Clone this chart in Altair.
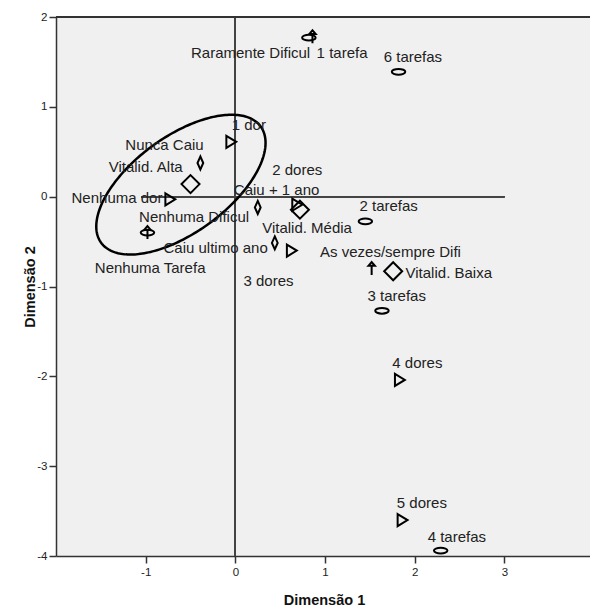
import altair as alt
import numpy as np
import pandas as pd

# Category points of the two-dimensional solution (joint category plot)
categorias = ["Nenhuma dor", "1 dor", "2 dores", "3 dores", "4 dores", "5 dores",
              "Nunca Caiu", "Caiu + 1 ano", "Caiu ultimo ano",
              "Vitalid. Alta", "Vitalid. Média", "Vitalid. Baixa",
              "Nenhuma Tarefa", "1 tarefa", "2 tarefas", "3 tarefas", "4 tarefas", "6 tarefas",
              "Nenhuma Dificul", "Raramente Dificul", "As vezes/sempre Difi"]
variaveis = (["Dor"] * 6 + ["Queda"] * 3 + ["Vitalidade"] * 3
             + ["Tarefas"] * 6 + ["Dificuldade"] * 3)
dim1 = [-0.73, -0.05, 0.685, 0.625, 1.83, 1.86,
        -0.39, 0.25, 0.44,
        -0.50, 0.72, 1.76,
        -0.98, 0.82, 1.45, 1.635, 2.29, 1.82,
        -0.98, 0.86, 1.52]
dim2 = [-0.03, 0.61, -0.09, -0.60, -2.04, -3.60,
        0.375, -0.12, -0.515,
        0.14, -0.145, -0.83,
        -0.40, 1.77, -0.275, -1.27, -3.94, 1.39,
        -0.40, 1.78, -0.80]
# where each category name is written
rotulo_x = [-1.32, 0.15, 0.69, 0.37, 2.03, 2.08,
            -0.79, 0.46, -0.22,
            -1.00, 0.80, 2.38,
            -0.95, 1.19, 1.71, 1.80, 2.47, 1.98,
            -0.46, 0.17, 1.73]
rotulo_y = [-0.01, 0.80, 0.30, -0.935, -1.85, -3.41,
            0.58, 0.07, -0.57,
            0.33, -0.345, -0.85,
            -0.79, 1.60, -0.10, -1.11, -3.79, 1.56,
            -0.23, 1.60, -0.62]

x_ticks = [-1, 0, 1, 2, 3]
y_ticks = [-4, -3, -2, -1, 0, 1, 2]

# one marker per variable (custom paths, all drawn at the same symbol size)
grupos = ["Dor", "Queda", "Vitalidade", "Tarefas", "Dificuldade"]
formas = [
    "M-0.5,-0.67L0.6,0L-0.5,0.67Z",
    "M0,-0.72L0.32,0L0,0.72L-0.32,0Z",
    "M0,-1L1,0L0,1L-1,0Z",
    "M-0.75,0C-0.75,-0.177,-0.414,-0.32,0,-0.32C0.414,-0.32,0.75,-0.177,0.75,0"
    "C0.75,0.177,0.414,0.32,0,0.32C-0.414,0.32,-0.75,0.177,-0.75,0Z",
    "M0,0.72L0,-0.4M-0.36,-0.3L0,-0.72L0.36,-0.3Z",
]

# highlighted cluster
elipse_centro = (-0.607, 0.134)
elipse_semieixos = (1.10, 0.535)
elipse_angulo = 36.0

df = pd.DataFrame({
    "categoria": categorias, "variavel": variaveis,
    "dim1": dim1, "dim2": dim2, "lx": rotulo_x, "ly": rotulo_y,
})

t = np.linspace(0, 2 * np.pi, 241)
th = np.radians(elipse_angulo)
a, b = elipse_semieixos
elipse = pd.DataFrame({
    "i": np.arange(len(t)),
    "x": elipse_centro[0] + a * np.cos(t) * np.cos(th) - b * np.sin(t) * np.sin(th),
    "y": elipse_centro[1] + a * np.cos(t) * np.sin(th) + b * np.sin(t) * np.cos(th),
})

FONT = "Liberation Sans"
xs = alt.Scale(domain=[-2, 3.955], nice=False, zero=False)
ys = alt.Scale(domain=[-4, 2], nice=False, zero=False)

# plain hyphen for negative tick values
tick_label = "'' + datum.value"

x_axis = alt.Axis(values=x_ticks, labelExpr=tick_label, grid=False, title="Dimensão 1",
                  domainColor="#333", domainWidth=1.5, tickColor="#333", tickWidth=1.5,
                  tickSize=7, labelFont=FONT, labelFontSize=11.5, labelColor="#222",
                  labelPadding=3, titleFont=FONT, titleFontSize=14.5,
                  titleFontWeight="bold", titleColor="#111", titleX=268, titleY=48,
                  titleAlign="center", titleBaseline="alphabetic")
y_axis = alt.Axis(values=y_ticks, labelExpr=tick_label, grid=False, title="Dimensão 2",
                  domainColor="#333", domainWidth=1.5, tickColor="#333", tickWidth=1.5,
                  tickSize=7, labelFont=FONT, labelFontSize=11.5, labelColor="#222",
                  labelPadding=2, titleFont=FONT, titleFontSize=14.5,
                  titleFontWeight="bold", titleColor="#111", titleAngle=270,
                  titleX=-22, titleY=269.5, titleAlign="center",
                  titleBaseline="alphabetic")

base = alt.Chart(df)

eixos = base.mark_point(opacity=0).encode(
    x=alt.X("dim1:Q", scale=xs, axis=x_axis),
    y=alt.Y("dim2:Q", scale=ys, axis=y_axis),
)

borda_topo = alt.Chart(df).mark_rule(color="#333", strokeWidth=1.5).encode(
    y=alt.datum(2, scale=ys))
linha_v = alt.Chart(df).mark_rule(color="#444", strokeWidth=1.1).encode(
    x=alt.datum(0, scale=xs))
linha_h = alt.Chart(df).mark_rule(color="#444", strokeWidth=1.1).encode(
    x=alt.datum(-1.05, scale=xs), x2=alt.datum(3), y=alt.datum(0, scale=ys))

contorno = alt.Chart(elipse).mark_line(color="black", strokeWidth=2.5).encode(
    x=alt.X("x:Q", scale=xs), y=alt.Y("y:Q", scale=ys), order="i:Q")

pontos = base.mark_point(filled=False, color="black", strokeWidth=2, size=324,
                         opacity=1).encode(
    x=alt.X("dim1:Q", scale=xs),
    y=alt.Y("dim2:Q", scale=ys),
    shape=alt.Shape("variavel:N", scale=alt.Scale(domain=grupos, range=formas),
                    legend=None),
)

rotulos = base.mark_text(font=FONT, fontSize=15, color="#222", align="center",
                         baseline="middle").encode(
    x=alt.X("lx:Q", scale=xs),
    y=alt.Y("ly:Q", scale=ys),
    text="categoria:N",
)

chart = alt.layer(eixos, linha_v, linha_h, contorno, pontos, rotulos, borda_topo).properties(
    width=534, height=539,
    autosize=alt.AutoSizeParams(type="none"),
    padding={"left": 56, "top": 17, "right": 0, "bottom": 51},
    background="white",
).configure_view(fill="#f0f0f0", stroke="transparent")

chart.save("out.html", embed_options={"renderer": "svg", "actions": False})
